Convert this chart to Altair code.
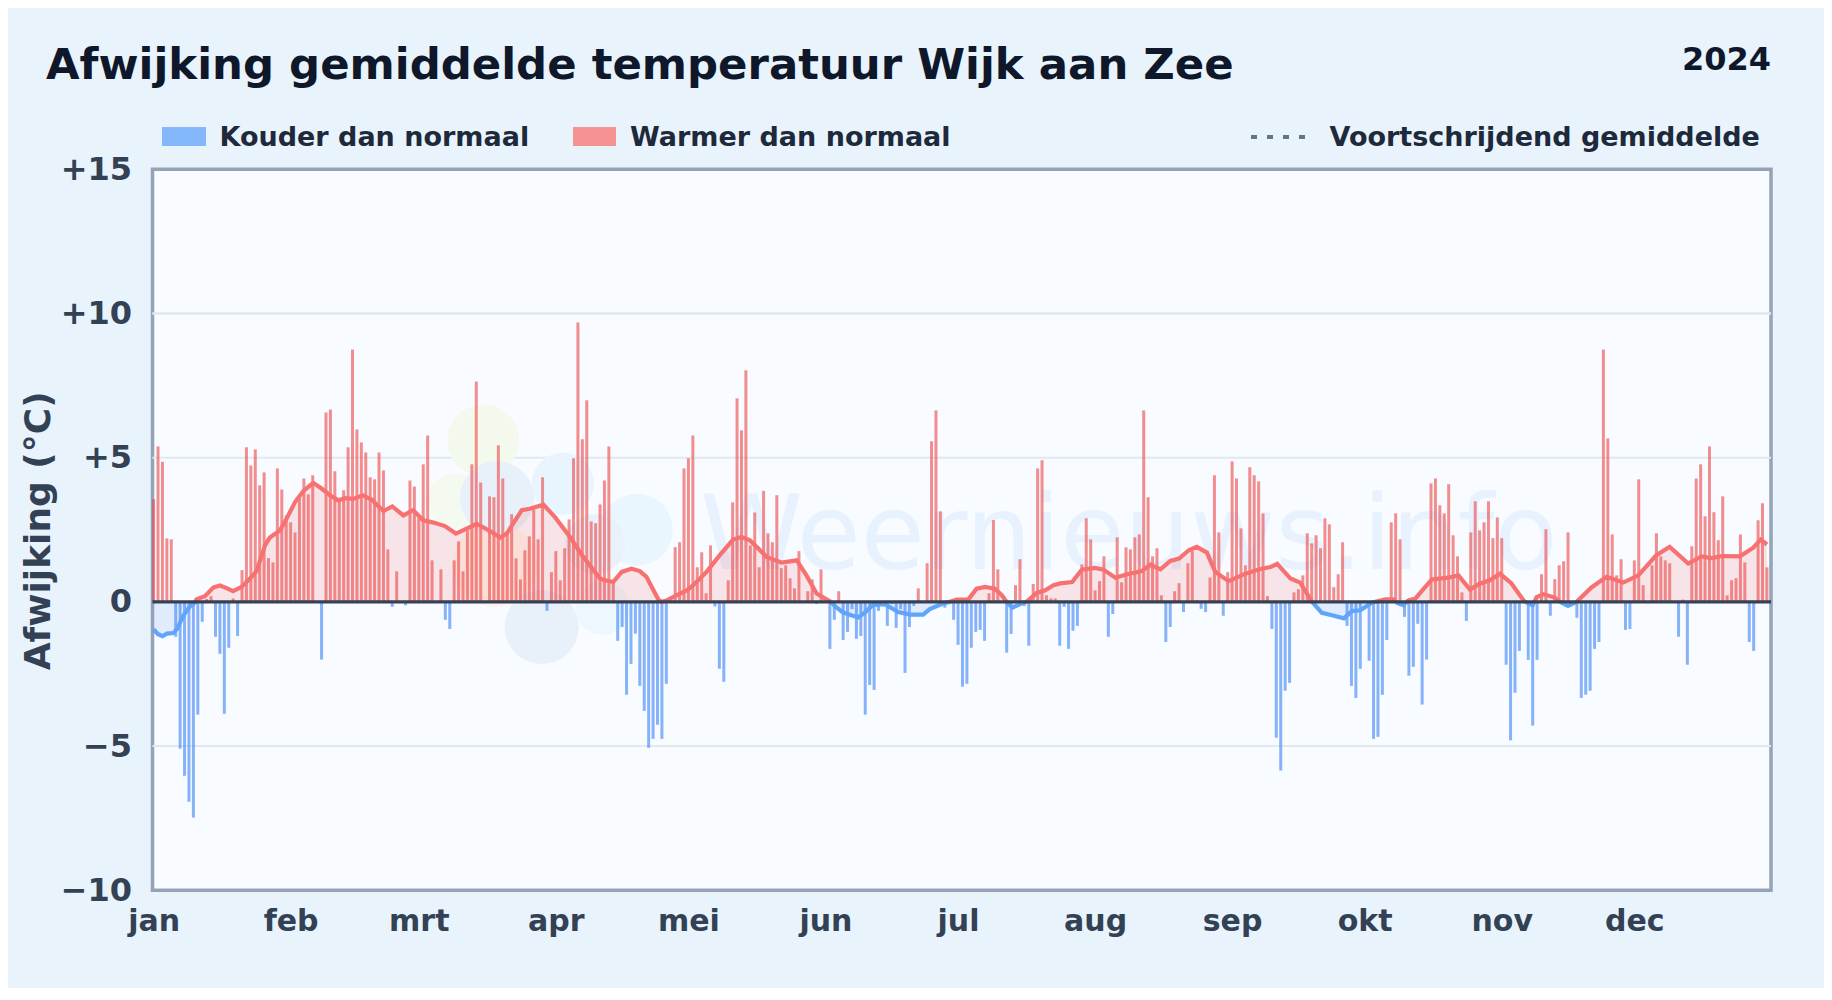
import altair as alt
import pandas as pd

# Daily deviation from normal (deg C), 1 Jan .. 31 Dec 2024
jan = [3.56,5.39,4.86,2.2,2.17,-1.21,-5.09,-6.03,-6.93,-7.48,-3.91,-0.69,0.1,0.2,-1.21,-1.8,-3.88,-1.59,0.12,-1.18,1.1,5.36,4.73,5.29,4.04,4.49,1.52,1.37,4.63,3.9,3.0]
feb = [2.76,2.41,3.6,4.28,3.73,4.39,0,-2.0,6.57,6.67,4.53,3.5,3.87,5.36,8.75,5.98,5.53,5.18,4.32,4.25,5.18,4.56,1.82,-0.17,1.06,0,-0.12,4.21,4.0]
mar = [2.9,4.77,5.77,1.44,0,1.13,-0.62,-0.94,1.44,2.1,1.06,2.48,4.77,7.64,4.14,0,3.66,3.63,5.43,4.28,2.4,3.04,1.51,0.78,1.79,2.27,3.2,2.17,4.32,-0.31,1.03]
apr = [1.76,0.75,1.86,2.86,4.98,9.69,5.64,6.99,2.79,2.73,3.38,4.21,5.39,0.75,-1.35,-0.87,-3.22,-2.15,-1.1,-2.91,-3.78,-5.06,-4.75,-4.26,-4.75,-2.84,0.18,1.9,2.07,4.63]
may = [4.98,5.77,1.2,1.72,0.3,1.96,-0.16,-2.32,-2.77,0.75,3.45,7.06,5.95,8.03,1.96,3.1,1.2,3.85,2.38,2.07,3.7,1.17,1.27,0.82,0.47,1.76,0,0.37,0.78,-0.07,1.13]
jun = [0,-1.63,-0.62,0.37,-1.32,-1.04,-0.25,-1.28,-1.18,-3.91,-2.88,-3.05,-0.31,-0.14,-0.83,-0.08,-0.9,-0.25,-2.46,-0.87,-0.14,0.47,0,1.34,5.57,6.64,3.14,-0.2,0,-0.62]
jul = [-1.49,-2.94,-2.84,-1.59,-1.04,-0.97,-1.35,0.3,2.84,1.13,0,-1.76,-1.11,0.58,1.48,-0.14,-1.52,0.62,4.63,4.91,0.23,0.12,0.12,-1.52,-0.17,-1.63,-1.0,-0.83,1.3,2.9,2.17]
aug = [0.4,0.72,1.58,-1.21,-0.42,2.24,0.68,1.89,1.82,2.24,2.34,6.64,3.63,1.58,1.86,0.23,-1.39,-0.87,0.37,0.65,-0.35,1.34,1.76,0.05,-0.24,-0.35,0.85,4.39,2.41,-0.48,1.03]
sep = [4.87,4.28,2.55,1.27,4.67,4.39,4.18,3.07,0.2,-0.94,-4.71,-5.85,-3.08,-2.81,0.33,0.44,0.92,2.38,2.03,2.31,1.86,2.9,2.69,0.51,0.96,2.07,-0.83,-2.91,-3.33,-2.32]
oct_ = [0,-2.04,-4.75,-4.68,-3.22,-1.32,2.76,3.07,2.17,-0.52,-2.56,-2.25,-0.76,-3.56,-2.0,4.11,4.28,3.35,3.07,4.08,2.31,1.58,0.33,-0.66,2.41,3.49,2.48,2.76,3.49,2.21,2.93]
nov = [2.21,-2.18,-4.8,-3.15,-1.7,0,-2.01,-4.29,-2.01,0.96,2.52,-0.48,0.79,1.27,1.41,2.41,0,-0.55,-3.33,-3.22,-3.08,-1.63,-1.39,8.75,5.67,2.34,0.92,1.48,-0.97,-0.94]
dec = [1.44,4.25,0.58,0,1.27,2.38,1.58,1.44,1.34,0,-1.21,0.08,-2.18,1.93,4.28,4.77,2.97,5.39,3.11,2.14,3.66,0.23,0.75,0.82,2.34,1.37,-1.39,-1.7,2.83,3.42,1.2]
deviation = jan + feb + mar + apr + may + jun + jul + aug + sep + oct_ + nov + dec

# Running mean (day index, deg C)
ma_days = [0,1,2,3,4.5,5.4,6.7,8.2,9.5,9.7,11.6,13.5,15,16.5,18,19.9,21.8,23.3,25.2,26.3,28.6,30.1,32,33.9,36.1,38,39.9,41.8,43.3,45.2,47.3,49.3,52,54,56.5,58.7,61,63.3,65.9,68.4,73.1,76.1,78.4,79.9,83.3,85.1,88.2,90.8,94.2,97.2,101,
           101.7,104,105.9,108.1,110,111.5,112.7,114.2,114.9,116.2,118.3,120.6,122.1,125.1,128.1,131.1,133,134.9,136.8,138.7,142.1,145.5,147.7,150,153.2,
           154.2,156,159.4,160.9,162.8,165.4,168.5,171.1,174.1,175.6,178.7,180,181.7,184.3,186.2,188.1,190.3,191.9,193,194.3,196.8,197.5,199.8,
           201.7,203.6,205.1,207.8,210,213,214.9,217.6,220.2,223.6,225.5,227.8,230,232,234.2,236,238.3,240.2,243.2,247,250.4,252.7,254.2,257.2,259.4,262.1,
           264.3,266.6,269.3,271.1,273,275.6,276.4,278.7,280.5,281,281.7,282.8,283.4,284,285.5,287.7,289.2,
           290.3,292.9,295.2,297.8,300.1,302.3,304.6,307.2,309.9,310.3,312,312.4,312.9,314.4,317,318.2,320,321.9,325.3,328.7,332.5,335.9,340,343,347.2,350.2,352.5,354.8,358.9,361.9,363.6,365]
ma_vals = [-0.95,-1.12,-1.19,-1.1,-1.08,-0.92,-0.48,-0.16,0,0.09,0.2,0.5,0.57,0.48,0.37,0.52,0.81,1.07,1.96,2.23,2.48,2.89,3.46,3.85,4.13,3.93,3.7,3.52,3.6,3.57,3.7,3.55,3.15,3.31,3.0,3.18,2.83,2.75,2.63,2.37,2.71,2.46,2.23,2.37,3.18,3.23,3.37,2.94,2.25,1.56,0.81,
           0.77,0.69,1.04,1.15,1.07,0.87,0.52,0.08,0,0.06,0.23,0.4,0.58,1.04,1.62,2.16,2.25,2.14,1.85,1.56,1.36,1.44,0.92,0.29,0,
           -0.16,-0.37,-0.54,-0.37,-0.1,-0.08,-0.35,-0.44,-0.44,-0.25,-0.05,0,0.08,0.08,0.46,0.52,0.46,0.23,0,-0.2,-0.02,0,0.31,
           0.4,0.58,0.64,0.69,1.12,1.18,1.12,0.84,0.96,1.07,1.29,1.13,1.42,1.5,1.79,1.91,1.71,1.04,0.72,0.98,1.14,1.21,1.32,0.81,0.67,0,
           -0.38,-0.46,-0.57,-0.32,-0.29,-0.03,0,0.09,0.09,0,-0.06,-0.12,0,0.06,0.12,0.52,0.78,
           0.8,0.84,0.92,0.43,0.64,0.75,0.98,0.64,0.06,0,-0.12,0,0.17,0.27,0.15,0,-0.14,0,0.5,0.87,0.67,0.92,1.62,1.91,1.33,1.58,1.52,1.59,1.58,1.88,2.16,1.99]

month_days = [0,31,60,91,121,152,182,213,244,274,305,335]
month_labels = ["jan","feb","mrt","apr","mei","jun","jul","aug","sep","okt","nov","dec"]
y_ticks = [-10,-5,0,5,10,15]
grid_values = [-5,5,10]

# Faint weather-logo blobs behind the data (day, deg C, diameter, colour)
logo_days = [74.6,68.2,77.7,92.6,109.3,99.9,77.2,87.8,101.6]
logo_vals = [5.6,3.5,3.6,4.1,2.5,2.0,1.3,-0.87,-0.2]
logo_diam = [72,55,72,62,72,60,85,74,54]
logo_cols = ["#f3f9ec","#f5faf1","#e8f0f9","#e8f5fe","#eaf6fe","#e9f1fb","#fdf4ec","#e8f0f9","#edf7fe"]

FONT = "DejaVu Sans"
INK = "#334155"
DARK = "#0f172a"
LEG = "#1e293b"
RED = "#ef4444"
BLUE = "#3b82f6"

W, H = 1618.5, 721
PAD_L, PAD_T = 144.5, 161.3

xaxis = alt.Axis(
    values=month_days,
    labelExpr="%s[indexof(%s, datum.value)]" % (str(month_labels), str(month_days)),
    grid=False, ticks=False, domain=False,
    labelFont=FONT, labelFontWeight="bold", labelFontSize=30, labelColor=INK,
    labelPadding=16, labelAlign="center", labelFlush=False, labelOverlap=False)
yaxis = alt.Axis(
    values=y_ticks, labelExpr="datum.value>0 ? '+'+datum.value : format(datum.value,'d')",
    grid=False, ticks=False, domain=False,
    labelFont=FONT, labelFontWeight="bold", labelFontSize=32, labelColor=INK, labelPadding=21,
    titleFont=FONT, titleFontWeight="bold", titleFontSize=36, titleColor=INK,
    titleX=-95, titleY=361, titleAngle=270)

xs = alt.Scale(domain=[-0.25, 365.92], nice=False, zero=False, padding=0)
ys = alt.Scale(domain=[-10, 15], nice=False)
X = lambda f: alt.X(f, type="quantitative", scale=xs, axis=xaxis, title=None)
Y = lambda f: alt.Y(f, type="quantitative", scale=ys, axis=yaxis, title="Afwijking (°C)")

bars = pd.DataFrame({"day": list(range(len(deviation))), "dev": deviation})
bars["kind"] = ["warm" if v >= 0 else "cold" for v in deviation]
ma = pd.DataFrame({"day": ma_days, "v": ma_vals})
ma["pos"] = [v if v >= 0 else None for v in ma_vals]
ma["neg"] = [v if v <= 0 else None for v in ma_vals]
logo = pd.DataFrame({"day": logo_days, "v": logo_vals, "d": logo_diam, "c": logo_cols})

grid = alt.Chart(pd.DataFrame({"g": grid_values + [10]})).mark_rule(color="#e2e8f0", strokeWidth=2).encode(y=Y("g"))

blobs = [
    alt.Chart(logo[logo.c == c]).mark_circle(opacity=1).encode(
        x=X("day"), y=Y("v"),
        size=alt.value(int(d) ** 2), color=alt.value(c))
    for c, d in zip(logo_cols, logo_diam)
]

watermark = alt.Chart().mark_text(
    text="Weernieuws.info", font=FONT, fontSize=104, align="left", baseline="alphabetic",
    color=BLUE, opacity=0.08).encode(x=alt.value(700 - 152.5), y=alt.value(569 - 169.3))

area_pos = alt.Chart(ma).mark_area(color=RED, opacity=0.12).encode(x=X("day"), y=Y("pos"), y2=alt.Y2(datum=0))
area_neg = alt.Chart(ma).mark_area(color=BLUE, opacity=0.12).encode(x=X("day"), y=Y("neg"), y2=alt.Y2(datum=0))

bar = alt.Chart(bars).mark_bar(size=3, opacity=0.6).encode(
    x=X("day"), y=Y("dev"),
    color=alt.Color("kind:N", scale=alt.Scale(domain=["warm", "cold"], range=[RED, BLUE]), legend=None))

line_pos = alt.Chart(ma).mark_line(color="#f87171", strokeWidth=4.2).encode(x=X("day"), y=Y("pos"))
line_neg = alt.Chart(ma).mark_line(color="#60a5fa", strokeWidth=4.2).encode(x=X("day"), y=Y("neg"))

zero = alt.Chart(pd.DataFrame({"z": [0]})).mark_rule(color="#374151", strokeWidth=3.4).encode(y=Y("z"))


def label(text, fx, fy, size, color, align="left", weight="bold"):
    return alt.Chart().mark_text(
        text=text, font=FONT, fontSize=size, fontWeight=weight, color=color, align=align,
        baseline="middle").encode(x=alt.value(fx - 152.5), y=alt.value(fy - 169.3))


def swatch(x0, x1, color):
    return alt.Chart().mark_rect(color=color).encode(
        x=alt.value(x0 - 152.5), x2=alt.value(x1 - 152.5),
        y=alt.value(127 - 169.3), y2=alt.value(146 - 169.3))


leg_line = alt.Chart().mark_rule(color="#64748b", strokeWidth=4, strokeDash=[6, 10]).encode(
    x=alt.value(1251 - 152.5), x2=alt.value(1310 - 152.5), y=alt.value(137 - 169.3))

chart = alt.layer(
    grid, *blobs, watermark, area_pos, area_neg, bar, line_neg, line_pos, zero,
    label("Afwijking gemiddelde temperatuur Wijk aan Zee", 46, 66, 43.4, DARK),
    swatch(162, 206, "#84b7fb"), label("Kouder dan normaal", 219.5, 138, 27, LEG),
    swatch(573, 616, "#f79292"), label("Warmer dan normaal", 630, 138, 27, LEG),
    leg_line, label("Voortschrijdend gemiddelde", 1329.5, 138, 27, LEG),
    label("2024", 1771, 60, 32, DARK, align="right"),
).properties(
    width=W, height=H,
    background="#e8f3fc",
    padding={"left": PAD_L, "top": PAD_T, "right": 1816 - PAD_L - W, "bottom": 980 - PAD_T - H},
    autosize=alt.AutoSizeParams(type="none"),
).configure_view(fill="#f8fbff", stroke="#94a3b8", strokeWidth=3.5)

chart.save("out.html", embed_options={"renderer": "svg", "actions": False})
